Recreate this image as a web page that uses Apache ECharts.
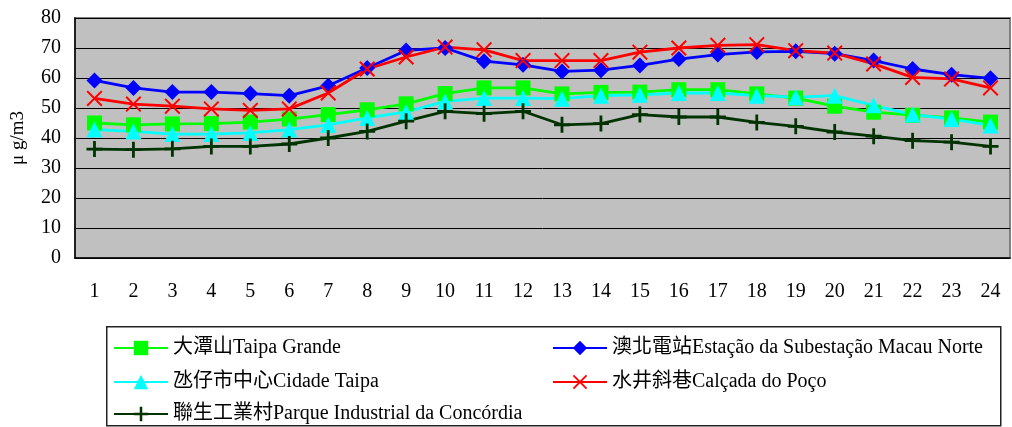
<!DOCTYPE html>
<html>
<head>
<meta charset="utf-8">
<script src="https://cdn.jsdelivr.net/npm/echarts@6/dist/echarts.min.js"></script>
<style>html,body{margin:0;padding:0;background:#fff}#c{width:1012px;height:427px}</style>
</head>
<body>
<div id="c"></div>
<script>
const hours = ['1','2','3','4','5','6','7','8','9','10','11','12','13','14','15','16','17','18','19','20','21','22','23','24'];
const yTicks = [0,10,20,30,40,50,60,70,80];
const taipaGrande = [45,44.4,44.7,44.8,45.3,46.3,47.8,49.4,51.4,54.8,56.7,56.7,54.7,55.2,55.3,56.1,56.1,54.7,53.3,50.6,48.6,47.6,46.7,45.3];
const macauNorte = [59.2,56.7,55.3,55.3,54.8,54.1,57.4,63.3,69.2,70,65.6,64.4,62.2,62.6,64.2,66.3,67.8,68.7,68.9,68.1,65.8,63,61.1,59.9];
const cidadeTaipa = [42.8,42.2,41.3,41.3,41.7,42.8,44.4,46.7,48.7,52.2,53.3,53.3,53.1,54.1,54.4,55,55,54.1,53.6,54.1,50.9,47.8,46.3,44.2];
const calcadaPoco = [53.2,51.3,50.6,49.7,49.2,49.7,55,63,67,70.3,69.4,65.8,65.8,65.8,68.6,70,70.9,71.1,69.1,68.3,64.7,60.2,59.7,56.7];
const concordia = [36.3,36.1,36.4,37.2,37.2,38,40,42.2,45.6,48.9,48.1,48.9,44.4,44.8,47.8,47,47,45.2,43.9,42,40.6,39.1,38.6,37.2];
const names = ['大潭山Taipa Grande','澳北電站Estação da Subestação Macau Norte','氹仔市中心Cidade Taipa','水井斜巷Calçada do Poço','聯生工業村Parque Industrial da Concórdia'];

const FONT = '"Liberation Serif","Noto Sans CJK TC",serif';
const X_PATH = 'path://M0,1.6 L1.6,0 L9,7.4 L16.4,0 L18,1.6 L10.6,9 L18,16.4 L16.4,18 L9,10.6 L1.6,18 L0,16.4 L7.4,9 Z';
const PLUS_PATH = 'path://M6.6,0H9.4V6.6H16V9.4H9.4V16H6.6V9.4H0V6.6H6.6Z';

function mk(name, data, color, symbol, size) {
  return {
    name, type: 'line', data, symbol, symbolSize: size,
    lineStyle: { color, width: 2.8 },
    itemStyle: { color },
    emphasis: { disabled: true },
    animation: false
  };
}

const chart = echarts.init(document.getElementById('c'), null, { renderer: 'canvas' });
const legendPos = [[108,333],[547,333],[108,367],[547,367],[108,399]];
chart.setOption({
  backgroundColor: '#fff',
  textStyle: { fontFamily: FONT },
  grid: { left: 75, right: 2, top: 18, bottom: 169, show: true, containLabel: false, outerBoundsMode: 'none', backgroundColor: '#C0C0C0', borderColor: '#808080', borderWidth: 2 },
  graphic: [{
    type: 'rect', left: 106, top: 326, shape: { width: 894, height: 99 },
    style: { fill: '#fff', stroke: '#222', lineWidth: 1.5 }, z: -1
  }],
  legend: names.map((n, i) => ({
    data: [n], left: legendPos[i][0], top: legendPos[i][1], itemWidth: 54, itemHeight: 18, itemGap: 3,
    textStyle: { fontFamily: FONT, fontSize: 20, color: '#000' }, selectedMode: false
  })),
  xAxis: {
    type: 'category', data: hours, boundaryGap: true,
    axisLine: { lineStyle: { color: '#000', width: 1.5 } },
    axisTick: { inside: true, length: 7, lineStyle: { color: '#000' } },
    axisLabel: { margin: 24, fontSize: 20, color: '#000', fontFamily: FONT },
    splitLine: { show: false }
  },
  yAxis: {
    type: 'value', min: 0, max: 80, interval: 10,
    name: 'μ g/m3', nameLocation: 'middle', nameGap: 47, nameRotate: 90,
    nameTextStyle: { fontSize: 19, color: '#000', fontFamily: FONT },
    axisLine: { show: true, lineStyle: { color: '#000', width: 1.5 } },
    axisTick: { show: false },
    axisLabel: { fontSize: 20, color: '#000', margin: 14, fontFamily: FONT, formatter: v => yTicks.includes(v) ? String(v) : '' },
    splitLine: { lineStyle: { color: '#000', width: 1 } }
  },
  series: [
    mk(names[0], taipaGrande, '#00FF00', 'rect', 15),
    mk(names[1], macauNorte, '#0000FF', 'diamond', 16),
    mk(names[2], cidadeTaipa, '#00FFFF', 'triangle', 16),
    mk(names[3], calcadaPoco, '#FF0000', X_PATH, 16),
    mk(names[4], concordia, '#003300', PLUS_PATH, 16)
  ]
});
</script>
</body>
</html>
